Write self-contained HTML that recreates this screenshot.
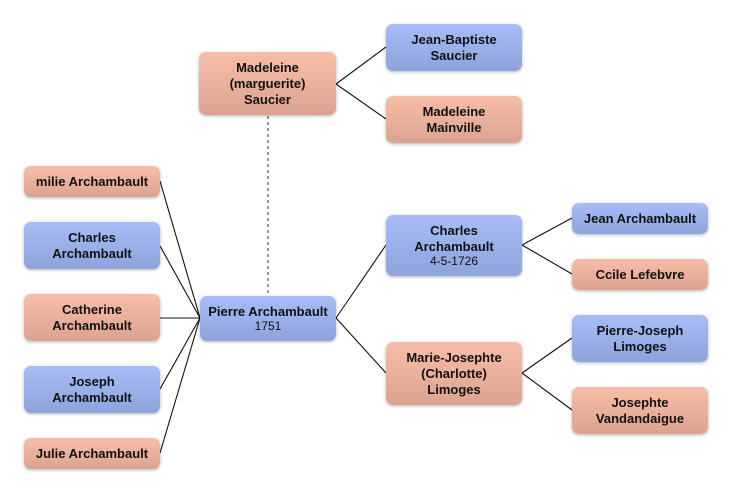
<!DOCTYPE html>
<html><head><meta charset="utf-8"><style>
body{margin:0;width:732px;height:494px;background:#fff;position:relative;overflow:hidden;font-family:"Liberation Sans","DejaVu Sans",sans-serif;}
.b{position:absolute;box-sizing:border-box;border-radius:7px;display:flex;flex-direction:column;align-items:center;justify-content:center;text-align:center;font-size:13px;font-weight:bold;color:#111;line-height:16px;box-shadow:0 1px 3px rgba(0,0,0,0.3);}
.p{background:linear-gradient(#f8bda8,#dba490);}
.u{background:linear-gradient(#a8bdf7,#8ea3dc);}
.s{font-weight:normal;font-size:12px;line-height:13px;}
svg{position:absolute;left:0;top:0;}
</style></head><body>
<svg width="732" height="494"><g stroke="#111" stroke-width="1.1" fill="none">
<line x1="160" y1="181" x2="200" y2="318"/>
<line x1="160" y1="246" x2="200" y2="318"/>
<line x1="160" y1="318" x2="200" y2="318"/>
<line x1="160" y1="389" x2="200" y2="318"/>
<line x1="160" y1="453" x2="200" y2="318"/>
<line x1="336" y1="318" x2="386" y2="245"/>
<line x1="336" y1="318" x2="386" y2="373"/>
<line x1="336" y1="84" x2="386" y2="47"/>
<line x1="336" y1="84" x2="386" y2="119"/>
<line x1="522" y1="245" x2="572" y2="218"/>
<line x1="522" y1="245" x2="572" y2="274"/>
<line x1="522" y1="373" x2="572" y2="338"/>
<line x1="522" y1="373" x2="572" y2="410"/>
<line x1="268" y1="116" x2="268" y2="295" stroke="#777" stroke-width="1.5" stroke-dasharray="3,3"/>
</g></svg>
<div class="b p" style="left:199px;top:52px;width:137px;height:63px">Madeleine<br>(marguerite)<br>Saucier</div>
<div class="b u" style="left:386px;top:24px;width:136px;height:47px">Jean-Baptiste<br>Saucier</div>
<div class="b p" style="left:386px;top:96px;width:136px;height:47px">Madeleine<br>Mainville</div>
<div class="b p" style="left:24px;top:166px;width:136px;height:31px">milie Archambault</div>
<div class="b u" style="left:24px;top:222px;width:136px;height:47px">Charles<br>Archambault</div>
<div class="b p" style="left:24px;top:294px;width:136px;height:47px">Catherine<br>Archambault</div>
<div class="b u" style="left:24px;top:366px;width:136px;height:47px">Joseph<br>Archambault</div>
<div class="b p" style="left:24px;top:438px;width:136px;height:31px">Julie Archambault</div>
<div class="b u" style="left:200px;top:296px;width:136px;height:45px">Pierre Archambault<span class="s">1751</span></div>
<div class="b u" style="left:386px;top:215px;width:136px;height:61px">Charles<br>Archambault<span class="s">4-5-1726</span></div>
<div class="b p" style="left:386px;top:342px;width:136px;height:63px">Marie-Josephte<br>(Charlotte)<br>Limoges</div>
<div class="b u" style="left:572px;top:203px;width:136px;height:31px">Jean Archambault</div>
<div class="b p" style="left:572px;top:259px;width:136px;height:31px">Ccile Lefebvre</div>
<div class="b u" style="left:572px;top:315px;width:136px;height:47px">Pierre-Joseph<br>Limoges</div>
<div class="b p" style="left:572px;top:387px;width:136px;height:47px">Josephte<br>Vandandaigue</div>
</body></html>
